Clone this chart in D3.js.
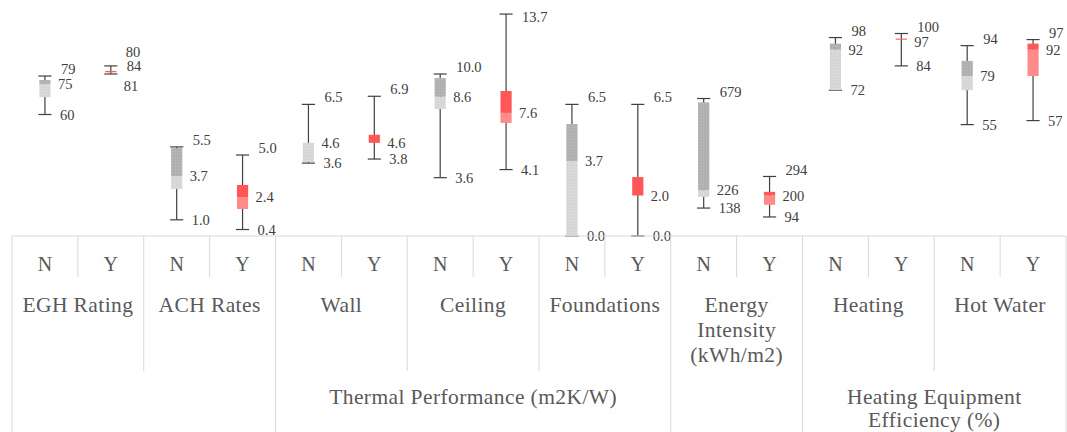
<!DOCTYPE html>
<html>
<head>
<meta charset="utf-8">
<script src="https://cdn.jsdelivr.net/npm/d3@7/dist/d3.min.js"></script>
<style>
  html, body { margin: 0; padding: 0; background: #ffffff; }
  svg { display: block; }
</style>
</head>
<body>
<svg id="chart" width="1067" height="432"></svg>
<script>
// ---------------- data ----------------
const subCats = ["N", "Y"];
const groupNames = ["EGH Rating", "ACH Rates", "Wall", "Ceiling", "Foundations",
                    "Energy|Intensity|(kWh/m2)", "Heating", "Hot Water"];
const groupAxisMax = [112, 14, 11.2, 14, 11.2, 1120, 112, 112];
const groupDecimals = [0, 1, 1, 1, 1, 0, 0, 0];
const superGroups = ["", "Thermal Performance (m2K/W)", "", "Heating Equipment|Efficiency (%)"];
const superGroupSpan = [2, 3, 1, 2];

// one value per box, in order: group0 N, group0 Y, group1 N, ...
const minVals = [60, 80, 1.0, 0.4, 3.6, 3.8, 3.6, 4.1, 0.0, 0.0, 138, 94, 72, 84, 55, 57];
const q1Vals  = [68.6, 80.8, 2.9, 1.67, 3.65, 4.6, 7.84, 6.98, 0.0, 2.0, 193, 154, 72, 96.8, 72, 79];
const medVals = [75, 81, 3.7, 2.4, 4.6, 4.6, 8.6, 7.6, 3.7, 2.0, 226, 200, 92, 97, 79, 92];
const q3Vals  = [77, 81.5, 5.43, 3.15, 4.6, 5.0, 9.75, 8.95, 5.53, 2.91, 660, 218, 95, 97.5, 86.5, 95];
const maxVals = [79, 84, 5.5, 5.0, 6.5, 6.9, 10.0, 13.7, 6.5, 6.5, 679, 294, 98, 100, 94, 97];

// ---------------- layout ----------------
const FONT = '"Liberation Serif", "Times New Roman", serif';
const svg = d3.select("#chart");
const left = 12, right = 1066, axisY = 236, topY = 9.2;
const nBoxes = groupNames.length * subCats.length;

const x = d3.scaleBand().domain(d3.range(nBoxes)).range([left, right]).padding(0);
const bw = x.bandwidth();
const boxW = bw * 0.17, capW = bw * 0.2;
const yScales = groupAxisMax.map(m => d3.scaleLinear().domain([0, m]).range([axisY, topY]));

const redDark = "#ff5757", redLight = "#ff8a8a";
const lineCol = "#404040";
const gridCol = "#d9d9d9";
const labCol = "#595959";

// texture for the grey boxes
const defs = svg.append("defs");
function dotPattern(id, base, dot) {
  const p = defs.append("pattern").attr("id", id).attr("width", 3).attr("height", 3)
    .attr("patternUnits", "userSpaceOnUse");
  p.append("rect").attr("width", 3).attr("height", 3).attr("fill", base);
  p.append("rect").attr("x", 1).attr("y", 1).attr("width", 1).attr("height", 1).attr("fill", dot);
}
dotPattern("gDark", "#b0b0b0", "#bdbdbd");
dotPattern("gLight", "#d6d6d6", "#e0e0e0");

function addText(parent, x0, y0, txt, size, fill, anchor, spacing) {
  return parent.append("text").attr("x", x0).attr("y", y0).attr("dy", "0.35em")
    .attr("text-anchor", anchor || "start")
    .style("font-family", FONT).style("font-size", size + "px")
    .style("letter-spacing", (spacing || 0) + "px")
    .attr("fill", fill).text(txt);
}

const boxes = d3.range(nBoxes).map(i => ({
  i, g: Math.floor(i / 2), cat: subCats[i % 2],
  min: minVals[i], q1: q1Vals[i], med: medVals[i], q3: q3Vals[i], max: maxVals[i]
}));

const gPlot = svg.append("g");
boxes.forEach(b => {
  const y = yScales[b.g];
  const cx = x(b.i) + bw / 2;
  const g = gPlot.append("g");
  g.append("line").attr("x1", cx).attr("x2", cx).attr("y1", y(b.max)).attr("y2", y(b.min))
    .attr("stroke", lineCol).attr("stroke-width", 1.2);
  [b.max, b.min].forEach(v => {
    g.append("line").attr("x1", cx - capW / 2).attr("x2", cx + capW / 2)
      .attr("y1", y(v)).attr("y2", y(v)).attr("stroke", lineCol).attr("stroke-width", 1.2);
  });
  const darkFill = b.cat === "N" ? "url(#gDark)" : redDark;
  const lightFill = b.cat === "N" ? "url(#gLight)" : redLight;
  g.append("rect").attr("x", cx - boxW / 2).attr("width", boxW)
    .attr("y", y(b.med)).attr("height", Math.max(0, y(b.q1) - y(b.med)))
    .attr("fill", lightFill);
  g.append("rect").attr("x", cx - boxW / 2).attr("width", boxW)
    .attr("y", y(b.q3)).attr("height", Math.max(0, y(b.med) - y(b.q3)))
    .attr("fill", darkFill);

  // data labels
  const fmt = d3.format("." + groupDecimals[b.g] + "f");
  const yMax = y(b.max), yMed = y(b.med), yMin = y(b.min);
  let lMax, lMed, lMin;
  if (yMin - yMax < 12) {
    lMax = yMax; lMin = yMax - 14; lMed = yMed + 14;
  } else {
    lMax = Math.max(yMax - 7, 17);
    lMed = Math.max(yMed, lMax + 15);
    lMin = Math.max(yMin, lMed + 15);
  }
  [[b.max, lMax, 16], [b.med, lMed, 13], [b.min, lMin, 15]].forEach(([v, ly, dx]) => {
    addText(g, cx + dx, ly, fmt(v), 14.5, lineCol, "start", 0);
  });
});

// ---------------- multi-level category axis ----------------
const gAxis = svg.append("g");
const row1Bottom = 277, row2Bottom = 371, row3Bottom = 432;
gAxis.append("line").attr("x1", left).attr("x2", right).attr("y1", axisY).attr("y2", axisY)
  .attr("stroke", gridCol).attr("stroke-width", 1);

const superStarts = [];
let acc = 0;
superGroupSpan.forEach(s => { superStarts.push(acc); acc += s; });
d3.range(nBoxes + 1).forEach(k => {
  let bottom;
  if (k % 2 === 1) bottom = row1Bottom;
  else {
    const gi = k / 2;
    bottom = (gi === 0 || gi === groupNames.length || superStarts.includes(gi)) ? row3Bottom : row2Bottom;
  }
  const xx = k === nBoxes ? right : x(k);
  gAxis.append("line").attr("x1", xx).attr("x2", xx).attr("y1", axisY).attr("y2", bottom)
    .attr("stroke", gridCol).attr("stroke-width", 1);
});

boxes.forEach(b => {
  addText(gAxis, x(b.i) + bw / 2, 264, b.cat, 20, labCol, "middle", 0);
});

groupNames.forEach((name, gi) => {
  const cx = x(gi * 2) + bw;
  name.split("|").forEach((line, li) => {
    addText(gAxis, cx, 304 + li * 25, line, 21.5, labCol, "middle", 0.4);
  });
});

superGroups.forEach((name, si) => {
  if (!name) return;
  const g0 = superStarts[si], g1 = g0 + superGroupSpan[si];
  const x0 = x(g0 * 2), x1 = g1 * 2 >= nBoxes ? right : x(g1 * 2);
  name.split("|").forEach((line, li) => {
    addText(gAxis, (x0 + x1) / 2, 396 + li * 23, line, 21.5, labCol, "middle", 0.4);
  });
});
</script>
</body>
</html>
